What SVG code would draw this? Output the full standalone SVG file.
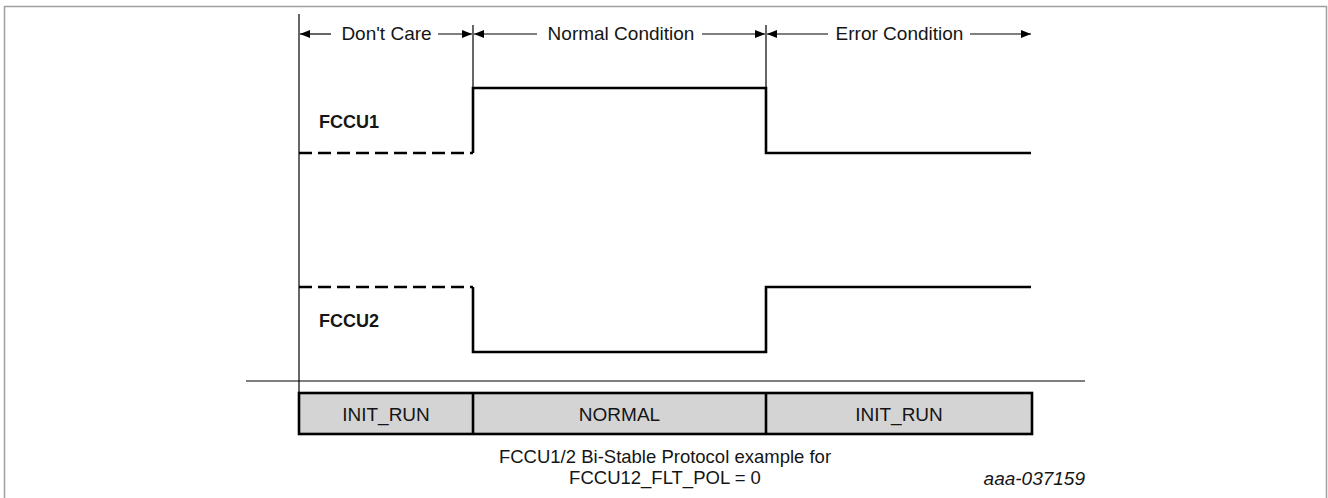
<svg xmlns="http://www.w3.org/2000/svg" width="1328" height="498" viewBox="0 0 1328 498">
  <style>
    .t { font-family: "Liberation Sans", Arial, sans-serif; font-size: 19px; fill: #151515; }
    .b { font-weight: bold; font-size: 18px; }
    .c { text-anchor: middle; }
    .cap { font-size: 18.5px; }
    .thin { stroke: #000; stroke-width: 1.2; fill: none; }
    .wave { stroke: #000; stroke-width: 2.6; fill: none; }
    .dash { stroke-dasharray: 13 6; }
  </style>
  <defs>
    <marker id="ah" viewBox="0 0 10 8" refX="10" refY="4" markerWidth="10" markerHeight="8" markerUnits="userSpaceOnUse" orient="auto-start-reverse">
      <path d="M0,0 L10,4 L0,8 z" fill="#000"/>
    </marker>
  </defs>
  <rect x="4.5" y="6.5" width="1322" height="500" fill="#fff" stroke="#a0a0a0" stroke-width="1.5"/>

  <g id="connectors">
    <line class="thin" x1="299" y1="14" x2="299" y2="393"/>
    <line class="thin" x1="473" y1="25" x2="473" y2="88"/>
    <line class="thin" x1="766" y1="25" x2="766" y2="88"/>
    <line class="thin" x1="246" y1="381" x2="1085" y2="381"/>
    <line class="thin" x1="331" y1="34" x2="300" y2="34" marker-end="url(#ah)"/>
    <line class="thin" x1="438" y1="34" x2="472" y2="34" marker-end="url(#ah)"/>
    <line class="thin" x1="537" y1="34" x2="474" y2="34" marker-end="url(#ah)"/>
    <line class="thin" x1="702" y1="34" x2="765" y2="34" marker-end="url(#ah)"/>
    <line class="thin" x1="828" y1="34" x2="767" y2="34" marker-end="url(#ah)"/>
    <line class="thin" x1="970" y1="34" x2="1031" y2="34" marker-end="url(#ah)"/>
  </g>

  <g id="labels-top">
    <text class="t c" x="386.5" y="40">Don't Care</text>
    <text class="t c" x="621" y="40">Normal Condition</text>
    <text class="t c" x="899.5" y="40">Error Condition</text>
  </g>

  <g id="fccu1">
    <text class="t b" x="319" y="128">FCCU1</text>
    <path class="wave dash" d="M299,153 H473"/>
    <path class="wave" d="M473,153 V88 H766 V153 H1031"/>
  </g>

  <g id="fccu2">
    <text class="t b" x="319" y="327">FCCU2</text>
    <path class="wave dash" d="M299,287 H473"/>
    <path class="wave" d="M473,287 V352 H766 V287 H1031"/>
  </g>

  <g id="state-bar">
    <rect x="299" y="393" width="733" height="41" fill="#d4d4d4" stroke="#000" stroke-width="2.6"/>
    <line x1="473" y1="393" x2="473" y2="434" stroke="#000" stroke-width="2.6"/>
    <line x1="766" y1="393" x2="766" y2="434" stroke="#000" stroke-width="2.6"/>
    <text class="t c" x="386" y="421">INIT_RUN</text>
    <text class="t c" x="619.5" y="421">NORMAL</text>
    <text class="t c" x="899" y="421">INIT_RUN</text>
  </g>

  <g id="caption">
    <text class="t c cap" x="665" y="463">FCCU1/2 Bi-Stable Protocol example for</text>
    <text class="t c cap" x="665" y="484">FCCU12_FLT_POL = 0</text>
    <text class="t" x="1085" y="485" text-anchor="end" font-style="italic" font-size="16">aaa-037159</text>
  </g>
</svg>
